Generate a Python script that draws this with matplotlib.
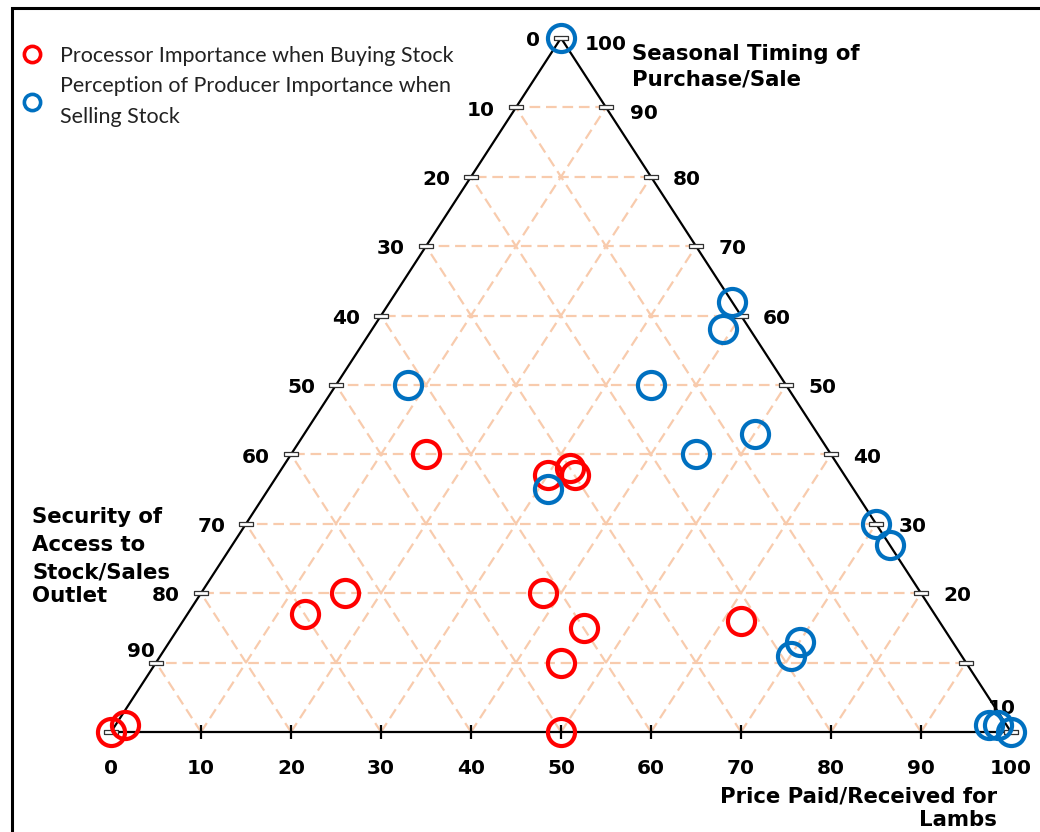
import matplotlib
matplotlib.use("Agg")
import matplotlib.pyplot as plt
import matplotlib.patches as mpatches
import numpy as np

# ---------------- data (percentages: price, seasonal timing, security) ----------------
series_names = ["Processor Importance when Buying Stock",
                "Perception of Producer Importance when\nSelling Stock"]

processor_price    = [0, 1, 15, 30, 32, 33, 16, 13, 38, 45, 45, 50, 62]
processor_seasonal = [0, 1, 40, 37, 38, 37, 20, 17, 20, 15, 10, 0, 16]
processor_security = [100, 98, 45, 33, 30, 30, 64, 70, 42, 40, 45, 50, 22]

producer_price    = [0, 38, 39, 8, 35, 50, 45, 31, 70, 73, 70, 70, 97, 98, 100]
producer_seasonal = [100, 62, 58, 50, 50, 43, 40, 35, 30, 27, 13, 11, 1, 1, 0]
producer_security = [0, 0, 3, 42, 15, 7, 15, 34, 0, 0, 17, 19, 2, 1, 0]

grid_levels = [10, 20, 30, 40, 50, 60, 70, 80, 90]
bottom_tick_labels = [0, 10, 20, 30, 40, 50, 60, 70, 80, 90, 100]
left_tick_labels = [0, 10, 20, 30, 40, 50, 60, 70, 80, 90]
right_tick_labels = [100, 90, 80, 70, 60, 50, 40, 30, 20, 10]

axis_title_top = "Seasonal Timing of\nPurchase/Sale"
axis_title_left_lines = ["Security of", "Access to", "Stock/Sales", "Outlet"]
axis_title_bottom_lines = ["Price Paid/Received for", "Lambs"]

RED = "#FF0000"
BLUE = "#0070C0"
GRID = "#F8CBAD"


def tern(price, seasonal, security):
    p = np.asarray(price, float)
    t = np.asarray(seasonal, float)
    s = np.asarray(security, float)
    tot = p + t + s
    p = 100 * p / tot
    t = 100 * t / tot
    return p + t / 2.0, t


W, H = 1040, 832
fig = plt.figure(figsize=(W / 100, H / 100), dpi=100)
ax = fig.add_axes([0, 0, 1, 1])
# pixel mapping: x 0..100 -> 111..1011 px ; y 0..100 -> 732..38 px
ax.set_xlim(-111 / 9, (W - 111) / 9)
ax.set_ylim(-(H - 732) / 6.94, 732 / 6.94)
ax.axis("off")


def px2data(px, py):
    return (px - 111) / 9, (732 - py) / 6.94


# figure frame
fig.patches.append(mpatches.Rectangle((12 / W, -0.2), 1.5, 1.2 - 8 / H,
                                      transform=fig.transFigure, fill=False,
                                      edgecolor="black", linewidth=2.2, zorder=0))

# grid lines
dash = (0, (4.8, 2.6))
for k in grid_levels:
    # constant seasonal (horizontal)
    x, y = tern([100 - k, 0], [k, k], [0, 100 - k])
    ax.plot(x, y, color=GRID, lw=1.6, ls=dash, zorder=1)
    # constant price
    x, y = tern([k, k], [0, 100 - k], [100 - k, 0])
    ax.plot(x, y, color=GRID, lw=1.6, ls=dash, zorder=1)
    # constant security
    x, y = tern([100 - k, 0], [0, 100 - k], [k, k])
    ax.plot(x, y, color=GRID, lw=1.6, ls=dash, zorder=1)

# triangle edges
x, y = tern([0, 100, 0, 0], [0, 0, 100, 0], [100, 0, 0, 100])
ax.plot(x, y, color="black", lw=1.6, zorder=2, solid_joinstyle="miter")

# tick marks
rect = [(-1, -0.27), (1, -0.27), (1, 0.27), (-1, 0.27), (-1, -0.27)]
lv = np.array(grid_levels, float)
lx, ly = tern(np.zeros_like(lv), lv, 100 - lv)
rx, ry = tern(100 - lv, lv, np.zeros_like(lv))
vx, vy = tern([0, 100, 0], [0, 0, 100], [100, 0, 0])
for xx, yy in [(lx, ly), (rx, ry), (vx, vy)]:
    ax.plot(xx, yy, ls="none", marker=rect, markersize=10.5, mfc="white",
            mec="#333333", mew=0.9, zorder=3)
bx, by = tern(lv, np.zeros_like(lv), 100 - lv)
ax.plot(bx, by, ls="none", marker="|", markersize=10, mec="black", mew=1.6, zorder=3)

# data points
px_, py_ = tern(processor_price, processor_seasonal, processor_security)
h1, = ax.plot(px_, py_, ls="none", marker="o", markersize=19.5, mfc="none",
              mec=RED, mew=3.0, zorder=5, label=series_names[0])
bx_, by_ = tern(producer_price, producer_seasonal, producer_security)
h2, = ax.plot(bx_, by_, ls="none", marker="o", markersize=19.5, mfc="none",
              mec=BLUE, mew=3.0, zorder=5, label=series_names[1])

# tick labels
tick_font = dict(fontsize=14.5, fontweight="bold", color="black", family="DejaVu Sans")
for v in bottom_tick_labels:
    x, y = tern([v], [0], [100 - v])
    ax.annotate(str(v), (x[0], y[0]), xytext=(0, -26), textcoords="offset points",
                ha="center", va="center", **tick_font)
for v in left_tick_labels:
    x, y = tern([0], [100 - v], [v])
    off = (-15, -2)
    if v == 90:
        off = (-1, 8)
    ax.annotate(str(v), (x[0], y[0]), xytext=off, textcoords="offset points",
                ha="right", va="center", **tick_font)
for v in right_tick_labels:
    x, y = tern([100 - v], [v], [0])
    off = (16, -2)
    if v == 90 or v == 100:
        off = (17, -4.5)
    if v == 10:
        off = (26, -33)
    ax.annotate(str(v), (x[0], y[0]), xytext=off, textcoords="offset points",
                ha="left" if v != 10 else "center", va="center", **tick_font)

# axis titles
title_font = dict(fontsize=15.3, fontweight="bold", color="black", family="DejaVu Sans")
ax.text(*px2data(632, 67), axis_title_top, ha="left", va="center",
        linespacing=1.32, **title_font)
for line, yy in zip(axis_title_left_lines, [517, 545, 572, 596]):
    ax.text(*px2data(32, yy), line, ha="left", va="center", **title_font)
for line, yy in zip(axis_title_bottom_lines, [797, 820]):
    ax.text(*px2data(997, yy), line, ha="right", va="center", **title_font)

# legend
leg = ax.legend(handles=[h1, h2], loc="upper left", bbox_to_anchor=(22 / W, 1 - 46 / H),
                bbox_transform=fig.transFigure, frameon=False, markerscale=0.6,
                prop={"family": "Lato", "size": 15.5}, handlelength=0.93,
                handletextpad=0.82, borderaxespad=0, borderpad=0, labelspacing=0.45,
                labelcolor="#222222")
for t in leg.get_texts():
    t.set_linespacing(1.72)
for lh in leg.legend_handles:
    lh.set_markeredgewidth(2.6)

fig.savefig("out.png", dpi=100)
